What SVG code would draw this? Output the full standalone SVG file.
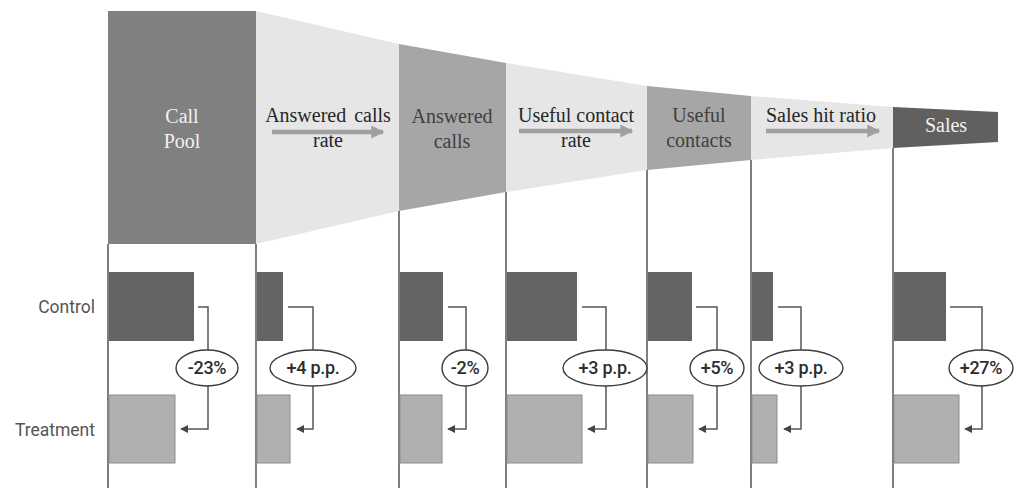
<svg xmlns="http://www.w3.org/2000/svg" width="1014" height="488" viewBox="0 0 1014 488">
<defs>
<style>
.ft{font-family:"Liberation Serif","Times New Roman",serif;font-size:20px;text-anchor:middle}
.lbl{font-family:Roboto,"Liberation Sans",sans-serif;font-size:17.5px;fill:#555;text-anchor:end}
.pct{font-family:Roboto,"Liberation Sans",sans-serif;font-size:18px;font-weight:500;fill:#2e2e2e;text-anchor:middle;letter-spacing:-0.3px}
.vl{stroke:#3a3a3a;stroke-width:1.3;fill:none}
.cbar{fill:#646464}
.tbar{fill:#b0b0b0;stroke:#8c8c8c;stroke-width:1}
.con{stroke:#555;stroke-width:1.5;fill:none}
.ell{fill:#fff;stroke:#3c3c3c;stroke-width:1.4}
.farr{stroke:#a0a0a0;stroke-width:4.5;fill:none}
</style>
<marker id="ah" viewBox="0 0 10 10" refX="9" refY="5" markerWidth="8" markerHeight="8" markerUnits="userSpaceOnUse" orient="auto">
<path d="M0,0 L10,5 L0,10 Z" fill="#444"/>
</marker>
<marker id="fh" viewBox="0 0 10 10" refX="9" refY="5" markerWidth="14" markerHeight="13" markerUnits="userSpaceOnUse" orient="auto">
<path d="M0,0 L10,5 L0,10 Z" fill="#a0a0a0"/>
</marker>
</defs>
<rect width="1014" height="488" fill="#fff"/>

<g id="funnel">
<g id="call-pool">
<rect x="108" y="11" width="148" height="233" fill="#808080"/>
<text class="ft" x="182" y="123" fill="#f2f2f2">Call</text>
<text class="ft" x="182" y="148" fill="#f2f2f2">Pool</text>
</g>
<g id="answered-calls-rate">
<polygon points="256,11 399,44 399,211 256,244" fill="#e6e6e6"/>
<text class="ft" x="328" y="122" fill="#262626" word-spacing="3">Answered calls</text>
<text class="ft" x="328" y="147" fill="#262626">rate</text>
</g>
<g id="answered-calls">
<polygon points="399,44 506,63 506,192 399,211" fill="#a6a6a6"/>
<text class="ft" x="452" y="123" fill="#404040">Answered</text>
<text class="ft" x="452" y="148" fill="#404040">calls</text>
</g>
<g id="useful-contact-rate">
<polygon points="506,63 647,86 647,170 506,192" fill="#e6e6e6"/>
<text class="ft" x="576" y="122" fill="#262626">Useful contact</text>
<text class="ft" x="576" y="147" fill="#262626">rate</text>
</g>
<g id="useful-contacts">
<polygon points="647,86 751,96 751,160 647,170" fill="#a6a6a6"/>
<text class="ft" x="699" y="122" fill="#404040">Useful</text>
<text class="ft" x="699" y="147" fill="#404040">contacts</text>
</g>
<g id="sales-hit-ratio">
<polygon points="751,96 893,107 893,148 751,160" fill="#e6e6e6"/>
<text class="ft" x="821" y="122" fill="#262626">Sales hit ratio</text>
</g>
<g id="sales">
<polygon points="893,107 998,112 998,142 893,148" fill="#606060"/>
<text class="ft" x="946" y="132" fill="#f2f2f2">Sales</text>
</g>
</g>

<g id="connectors">
<line class="farr" x1="272" y1="132" x2="383" y2="132" marker-end="url(#fh)"/>
<line class="farr" x1="519" y1="131" x2="632" y2="131" marker-end="url(#fh)"/>
<line class="farr" x1="766" y1="131" x2="879" y2="131" marker-end="url(#fh)"/>

<line class="vl" x1="108" y1="244" x2="108" y2="488"/>
<line class="vl" x1="256" y1="244" x2="256" y2="488"/>
<line class="vl" x1="399" y1="211" x2="399" y2="488"/>
<line class="vl" x1="506" y1="192" x2="506" y2="488"/>
<line class="vl" x1="647" y1="170" x2="647" y2="488"/>
<line class="vl" x1="751" y1="160" x2="751" y2="488"/>
<line class="vl" x1="893" y1="148" x2="893" y2="488"/>

<path class="con" d="M198,307 H208 V429 H181" marker-end="url(#ah)"/>
<path class="con" d="M288,307 H313 V429 H297" marker-end="url(#ah)"/>
<path class="con" d="M448,307 H466 V429 H448" marker-end="url(#ah)"/>
<path class="con" d="M582,307 H606 V429 H588" marker-end="url(#ah)"/>
<path class="con" d="M696,307 H717 V429 H699" marker-end="url(#ah)"/>
<path class="con" d="M778,307 H801 V429 H784" marker-end="url(#ah)"/>
<path class="con" d="M950,307 H982 V429 H965" marker-end="url(#ah)"/>
</g>

<g id="row-labels">
<text class="lbl" x="95" y="313">Control</text>
<text class="lbl" x="95" y="436">Treatment</text>
</g>

<g id="bars">
<rect class="cbar" x="109" y="272" width="85" height="69"/>
<rect class="cbar" x="257" y="272" width="26" height="69"/>
<rect class="cbar" x="400" y="272" width="43" height="69"/>
<rect class="cbar" x="507" y="272" width="70" height="69"/>
<rect class="cbar" x="648" y="272" width="44" height="69"/>
<rect class="cbar" x="752" y="272" width="21" height="69"/>
<rect class="cbar" x="894" y="272" width="52" height="69"/>
<rect class="tbar" x="109" y="395" width="66" height="68"/>
<rect class="tbar" x="257" y="395" width="33" height="68"/>
<rect class="tbar" x="400" y="395" width="42" height="68"/>
<rect class="tbar" x="507" y="395" width="75" height="68"/>
<rect class="tbar" x="648" y="395" width="45" height="68"/>
<rect class="tbar" x="752" y="395" width="25" height="68"/>
<rect class="tbar" x="894" y="395" width="65" height="68"/>
</g>

<g id="delta-1"><ellipse class="ell" cx="207" cy="368" rx="31" ry="18"/><text class="pct" x="207" y="374">-23%</text></g>
<g id="delta-2"><ellipse class="ell" cx="313" cy="368" rx="43" ry="18"/><text class="pct" x="313" y="374">+4 p.p.</text></g>
<g id="delta-3"><ellipse class="ell" cx="465" cy="368" rx="23" ry="18"/><text class="pct" x="465" y="374">-2%</text></g>
<g id="delta-4"><ellipse class="ell" cx="605" cy="368" rx="42" ry="18"/><text class="pct" x="605" y="374">+3 p.p.</text></g>
<g id="delta-5"><ellipse class="ell" cx="717" cy="368" rx="27" ry="18"/><text class="pct" x="717" y="374">+5%</text></g>
<g id="delta-6"><ellipse class="ell" cx="801" cy="368" rx="42" ry="18"/><text class="pct" x="801" y="374">+3 p.p.</text></g>
<g id="delta-7"><ellipse class="ell" cx="981" cy="368" rx="32" ry="18"/><text class="pct" x="981" y="374">+27%</text></g>
</svg>
